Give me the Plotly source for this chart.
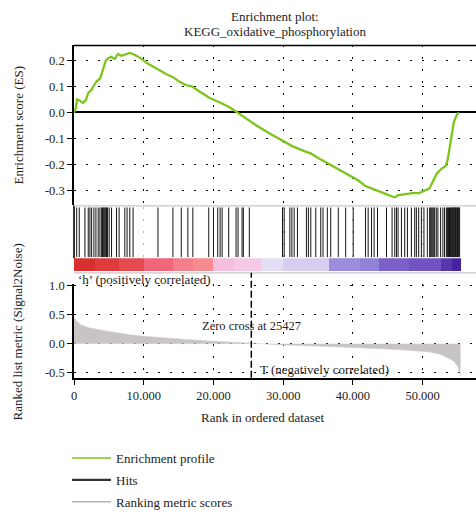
import plotly.graph_objects as go

# ---------------- data ----------------
# running enrichment score (rank, ES)
es_rank = [0, 250, 450, 850, 1300, 1700, 2050, 2500, 2850, 3250, 3750, 4150, 4550,
           4900, 5350, 5850, 6300, 6800, 7300, 8000, 8700, 9500, 10400, 11800, 13200,
           14200, 15150, 16100, 16800, 18000, 19400, 20850, 22300, 23400, 24200, 26100,
           28000, 29900, 31300, 33200, 33950, 35150, 37000, 39400, 40850, 41800, 43500,
           44700, 45600, 46100, 46400, 47300, 48500, 49450, 50400, 50950, 51400, 52050,
           52750, 53300, 53600, 53850, 54100, 54450, 54800, 55150]
es_value = [0.0, 0.015, 0.050, 0.045, 0.036, 0.048, 0.075, 0.086, 0.104, 0.119, 0.130,
            0.160, 0.198, 0.208, 0.213, 0.205, 0.224, 0.217, 0.221, 0.228, 0.221, 0.209,
            0.190, 0.168, 0.147, 0.135, 0.117, 0.104, 0.101, 0.080, 0.056, 0.039, 0.020,
            0.000, -0.015, -0.049, -0.080, -0.108, -0.129, -0.150, -0.157, -0.177, -0.205,
            -0.240, -0.262, -0.282, -0.298, -0.312, -0.322, -0.325, -0.318, -0.313, -0.309,
            -0.309, -0.300, -0.292, -0.268, -0.234, -0.215, -0.205, -0.180, -0.140, -0.095,
            -0.040, -0.015, 0.0]

# ranks of gene-set members in the ordered list
hit_ranks = [386, 757, 1571, 2043, 2286, 2529, 2857, 3143, 3471, 3714, 3960, 4080, 4200,
             4320, 4440, 4560, 4670, 4814, 5043, 5386, 6100, 6471, 7286, 7614, 8000, 8471,
             12043, 14186, 15386, 16329, 17043, 19329, 20000, 20614, 20957, 21243, 22186,
             23243, 23529, 24100, 24286, 25143, 29900, 30143, 30957, 31243, 31571, 32043,
             33329, 33614, 33957, 34671, 35386, 35714, 36329, 36814, 37900, 38957, 40043,
             41814, 42186, 42671, 43043, 43529, 44814, 45614, 46000, 46243, 46471, 46957,
             47429, 47814, 48386, 48857, 49100, 49429, 49814, 50186, 50671, 51000, 51150,
             51300, 51450, 51600, 51720, 51957, 52186, 52571, 52900, 53143, 53400, 53550,
             53700, 53850, 54000, 54100, 54200, 54300, 54400, 54500, 54600, 54700, 54800,
             54900, 55000, 55100, 55200, 55300]

# ranked list metric (Signal2Noise)
metric_rank = [0, 300, 1000, 2000, 3700, 6000, 8000, 10000, 13000, 16000, 20000, 23000,
               25427, 27000, 30000, 35000, 40000, 43700, 47000, 50800, 52500, 53240,
               54430, 55050, 55380, 55430]
metric_value = [0.45, 0.40, 0.33, 0.28, 0.24, 0.19, 0.155, 0.13, 0.10, 0.075, 0.045, 0.025,
                0.0, -0.01, -0.02, -0.04, -0.06, -0.083, -0.105, -0.14, -0.18, -0.22,
                -0.30, -0.39, -0.53, -0.56]

# phenotype colour bar: band edges (rank) and colours
band_edges = [0, 3000, 6500, 10000, 14200, 17000, 19900, 23000, 26800, 29900, 36600,
              41000, 43700, 48000, 52700, 54200, 55430]
band_colors = ["#d8302f", "#de3b3c", "#e44a4e", "#f2667a", "#f47f88", "#f58b8f",
               "#f6bfe0", "#f8c9e7", "#e4ddf6", "#d7cdf1", "#9d8cdb", "#9282d6",
               "#7b60c8", "#7052c2", "#5737ad", "#4523a0"]

zero_cross = 25427
x_ticks = [0, 10000, 20000, 30000, 40000, 50000]
x_tick_labels = ["0", "10.000", "20.000", "30.000", "40.000", "50.000"]
es_ticks = [-0.3, -0.2, -0.1, 0.0, 0.1, 0.2]
es_tick_labels = ["-0.3", "-0.2", "-0.1", "0.0", "0.1", "0.2"]
metric_ticks = [-0.5, 0.0, 0.5, 1.0]
metric_tick_labels = ["-0.5", "0.0", "0.5", "1.0"]

# ---------------- layout helpers ----------------
W, H = 476, 517
L = 74
FONT = "Liberation Serif"
TXT = "#222222"
X_MAX = 57650
TICKFONT = dict(family=FONT, size=12.5, color=TXT)


def py(px):
    """pixel row (from top) -> paper y"""
    return 1 - px / H


def px_x(px):
    """pixel column -> paper x"""
    return (px - L) / (W - L)


fig = go.Figure()

# enrichment profile
fig.add_trace(go.Scatter(x=es_rank, y=es_value, mode="lines",
                         line=dict(color="#7cc51b", width=2.3),
                         xaxis="x", yaxis="y", showlegend=False, hoverinfo="skip"))

# hits
hx, hy = [], []
for r in hit_ranks:
    hx += [r, r, None]
    hy += [0, 1, None]
fig.add_trace(go.Scatter(x=hx, y=hy, mode="lines", line=dict(color="#141414", width=1),
                         xaxis="x2", yaxis="y2", showlegend=False, hoverinfo="skip"))

# colour bar
centers = [(a + b) / 2 for a, b in zip(band_edges[:-1], band_edges[1:])]
widths = [b - a for a, b in zip(band_edges[:-1], band_edges[1:])]
fig.add_trace(go.Bar(x=centers, y=[1] * len(centers), width=widths,
                     marker=dict(color=band_colors, line=dict(width=0)),
                     xaxis="x3", yaxis="y3", showlegend=False, hoverinfo="skip"))

# ranked list metric
fig.add_trace(go.Scatter(x=metric_rank, y=metric_value, mode="lines", fill="tozeroy",
                         fillcolor="#c9c4c4", line=dict(color="#c9c4c4", width=0.5),
                         xaxis="x4", yaxis="y4", showlegend=False, hoverinfo="skip"))

# legend entries
for name, col, wd in [("Enrichment profile", "#7cc51b", 1.6),
                      ("Hits", "#333333", 2.2),
                      ("Ranking metric scores", "#b5b5b5", 1.6)]:
    fig.add_trace(go.Scatter(x=[None], y=[None], mode="lines", name=name,
                             line=dict(color=col, width=wd), legendgroup=name,
                             xaxis="x4", yaxis="y4"))

grid_dash = "2px,10px"
common_x = dict(range=[0, X_MAX], tickvals=x_ticks, showgrid=True, griddash=grid_dash,
                gridcolor="#000000", gridwidth=1, zeroline=False, showticklabels=False,
                ticks="", showline=False, fixedrange=True)

fig.update_layout(
    width=W, height=H,
    margin=dict(l=L, r=0, t=0, b=0),
    paper_bgcolor="white", plot_bgcolor="white",
    font=dict(family=FONT, size=13, color=TXT),
    showlegend=True,
    legend=dict(x=px_x(67), y=py(455), xanchor="left", yanchor="top",
                bgcolor="rgba(0,0,0,0)", font=dict(family=FONT, size=13, color=TXT),
                tracegroupgap=2, itemwidth=39),
    xaxis=dict(common_x, domain=[0, 1], anchor="y"),
    yaxis=dict(domain=[py(208), py(42)], range=[-0.356, 0.2565], tickvals=es_ticks,
               ticktext=es_tick_labels, showgrid=True, griddash=grid_dash,
               gridcolor="#000000", zeroline=True, zerolinecolor="#000000",
               zerolinewidth=1.6, showline=True, linecolor="#000000", linewidth=1.6,
               ticks="outside", ticklen=5, tickcolor="#000000", tickwidth=1,
               tickfont=TICKFONT, anchor="x", fixedrange=True),
    xaxis2=dict(common_x, domain=[0, 1], anchor="y2", gridcolor="#b0b0b0"),
    yaxis2=dict(domain=[py(262), py(210)], range=[0, 1], showgrid=False, zeroline=False,
                showticklabels=False, showline=False, anchor="x2", fixedrange=True),
    xaxis3=dict(range=[0, X_MAX], domain=[0, 1], anchor="y3", visible=False),
    yaxis3=dict(domain=[py(277), py(263)], range=[0, 1], visible=False, anchor="x3"),
    xaxis4=dict(range=[0, X_MAX], domain=[0, 1], anchor="y4", tickvals=x_ticks,
                ticktext=x_tick_labels, showgrid=True, griddash=grid_dash,
                gridcolor="#000000", zeroline=False, showline=True, linecolor="#000000",
                linewidth=1.6, ticks="outside", ticklen=5, tickcolor="#000000",
                tickfont=TICKFONT, fixedrange=True),
    yaxis4=dict(domain=[py(387), py(290)], range=[-0.588, 1.028], tickvals=metric_ticks,
                ticktext=metric_tick_labels, showgrid=True, griddash=grid_dash,
                gridcolor="#000000", zeroline=False, showline=True, linecolor="#000000",
                linewidth=1.6, ticks="outside", ticklen=5, tickcolor="#000000",
                tickfont=TICKFONT, anchor="x4", fixedrange=True),
    bargap=0,
)

shapes = [
    # top frame of the ES panel
    dict(type="line", xref="paper", yref="paper", x0=0, x1=1, y0=py(42), y1=py(42),
         line=dict(color="#000000", width=1.6)),
    # left edge through the hit panel
    dict(type="line", xref="paper", yref="paper", x0=0, x1=0, y0=py(263), y1=py(208),
         line=dict(color="#000000", width=1.6)),
    # separators around hit / colour bar panel
    dict(type="line", xref="paper", yref="paper", x0=0, x1=1, y0=py(208.5), y1=py(208.5),
         line=dict(color="#c8c8c8", width=1.2)),
    dict(type="line", xref="paper", yref="paper", x0=0, x1=1, y0=py(278), y1=py(278),
         line=dict(color="#c8c8c8", width=1.2)),
    # zero cross marker
    dict(type="line", xref="x4", yref="paper", x0=zero_cross, x1=zero_cross,
         y0=py(387), y1=py(278), line=dict(color="#000000", width=1.5, dash="7px,3px")),
]
fig.update_layout(shapes=shapes)

ann = [
    dict(text="Enrichment plot:", x=0.5, y=py(12), xref="paper", yref="paper",
         showarrow=False, xanchor="center", yanchor="middle", font=dict(size=13)),
    dict(text="KEGG_oxidative_phosphorylation", x=0.5, y=py(28), xref="paper",
         yref="paper", showarrow=False, xanchor="center", yanchor="middle",
         font=dict(size=13)),
    dict(text="Enrichment score (ES)", x=px_x(18), y=py(125), xref="paper", yref="paper",
         showarrow=False, textangle=-90, xanchor="center", yanchor="middle",
         font=dict(size=13)),
    dict(text="Ranked list metric (Signal2Noise)", x=px_x(18), y=py(340), xref="paper",
         yref="paper", showarrow=False, textangle=-90, xanchor="center",
         yanchor="middle", font=dict(size=13)),
    dict(text="\u2018h\u2019 (positively correlated)", x=px_x(76), y=py(285),
         xref="paper", yref="paper", showarrow=False, xanchor="left", yanchor="middle",
         font=dict(size=13)),
    dict(text="Zero cross at 25427", x=zero_cross, y=py(333), xref="x4", yref="paper",
         showarrow=False, xanchor="center", yanchor="middle", font=dict(size=12.5)),
    dict(text="T (negatively correlated)", x=px_x(258), y=py(378), xref="paper",
         yref="paper", showarrow=False, xanchor="left", yanchor="middle",
         font=dict(size=13)),
    dict(text="Rank in ordered dataset", x=px_x(262), y=py(428), xref="paper",
         yref="paper", showarrow=False, xanchor="center", yanchor="middle",
         font=dict(size=13)),
]
fig.update_layout(annotations=ann)

fig.write_html("out.html")
